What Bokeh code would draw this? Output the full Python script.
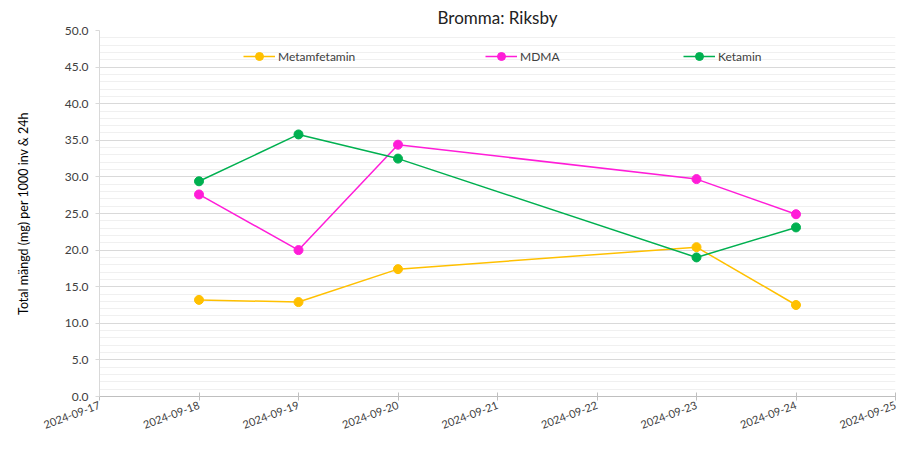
import pandas as pd
from bokeh.plotting import figure
from bokeh.models import (Range1d, DaysTicker, DatetimeTickFormatter, NumeralTickFormatter,
                          SingleIntervalTicker, Legend, LegendItem, ColumnDataSource)
from bokeh.embed import file_html
from bokeh.resources import INLINE

title = "Bromma: Riksby"
y_label = "Total mängd (mg) per 1000 inv & 24h"
dates = ["2024-09-18", "2024-09-19", "2024-09-20", "2024-09-23", "2024-09-24"]
metamfetamin = [13.2, 12.9, 17.4, 20.4, 12.5]
mdma = [27.6, 20.0, 34.4, 29.7, 24.9]
ketamin = [29.4, 35.8, 32.5, 19.0, 23.1]
x_start, x_end = "2024-09-17", "2024-09-25"

series = [("Metamfetamin", metamfetamin, "#FFC000"),
          ("MDMA", mdma, "#FF1DD8"),
          ("Ketamin", ketamin, "#00B050")]

FONT = "Lato"
x = pd.to_datetime(dates)

p = figure(width=898, height=435, x_axis_type="datetime", output_backend="svg",
           toolbar_location=None,
           x_range=Range1d(pd.Timestamp(x_start), pd.Timestamp(x_end)),
           y_range=Range1d(0, 50),
           min_border_left=99, min_border_right=3, min_border_top=30, min_border_bottom=32)

p.title.text = title
p.title.align = "center"
p.title.text_font = FONT
p.title.text_font_size = "17px"
p.title.text_font_style = "normal"
p.title.text_color = "#222222"
p.title.standoff = 5
p.outline_line_color = None

# axes
p.xaxis.ticker = DaysTicker(days=list(range(1, 32)))
p.xaxis.formatter = DatetimeTickFormatter(days="%Y-%m-%d", months="%Y-%m-%d")
p.xaxis.major_label_orientation = 0.36
p.xaxis.axis_line_color = "#BFBFBF"
p.xaxis.major_tick_line_color = "#BFBFBF"
p.xaxis.major_tick_out = 4
p.xaxis.major_tick_in = 4
p.xaxis.major_label_standoff = 4
p.xaxis.minor_tick_line_color = None
p.xaxis.major_label_text_font = FONT
p.xaxis.major_label_text_font_size = "11px"
p.xaxis.major_label_text_color = "#404040"

p.yaxis.ticker = SingleIntervalTicker(interval=5, num_minor_ticks=5)
p.yaxis.formatter = NumeralTickFormatter(format="0.0")
p.yaxis.axis_line_color = "#D9D9D9"
p.yaxis.major_tick_line_color = "#D9D9D9"
p.yaxis.major_tick_out = 4
p.yaxis.major_tick_in = 0
p.yaxis.major_label_standoff = 7
p.yaxis.minor_tick_line_color = None
p.yaxis.major_label_text_font = FONT
p.yaxis.major_label_text_font_size = "12px"
p.yaxis.major_label_text_color = "#404040"
p.yaxis.axis_label = y_label
p.yaxis.axis_label_text_font = FONT
p.yaxis.axis_label_text_font_size = "12.5px"
p.yaxis.axis_label_text_font_style = "normal"
p.yaxis.axis_label_text_color = "#000000"
p.yaxis.axis_label_standoff = 31

p.xgrid.grid_line_color = None
p.ygrid.grid_line_color = "#D9D9D9"
p.ygrid.minor_grid_line_color = "#F0F0F0"
p.ygrid.grid_line_width = 1

legend_x = [144, 386, 584]
for (name, vals, color), lx in zip(series, legend_x):
    src = ColumnDataSource(dict(x=x, y=vals))
    r1 = p.line("x", "y", source=src, line_color=color, line_width=1.5)
    r2 = p.scatter("x", "y", source=src, size=9, fill_color=color, line_color=color)
    lg = Legend(items=[LegendItem(label=name, renderers=[r1, r2])],
                location=(lx, 330), padding=0, margin=0, glyph_width=32, glyph_height=20,
                label_standoff=3, label_text_font=FONT, label_text_font_size="12px",
                label_text_color="#404040", background_fill_alpha=0, border_line_alpha=0)
    p.add_layout(lg, "center")

open("out.html", "w").write(file_html(p, INLINE))
